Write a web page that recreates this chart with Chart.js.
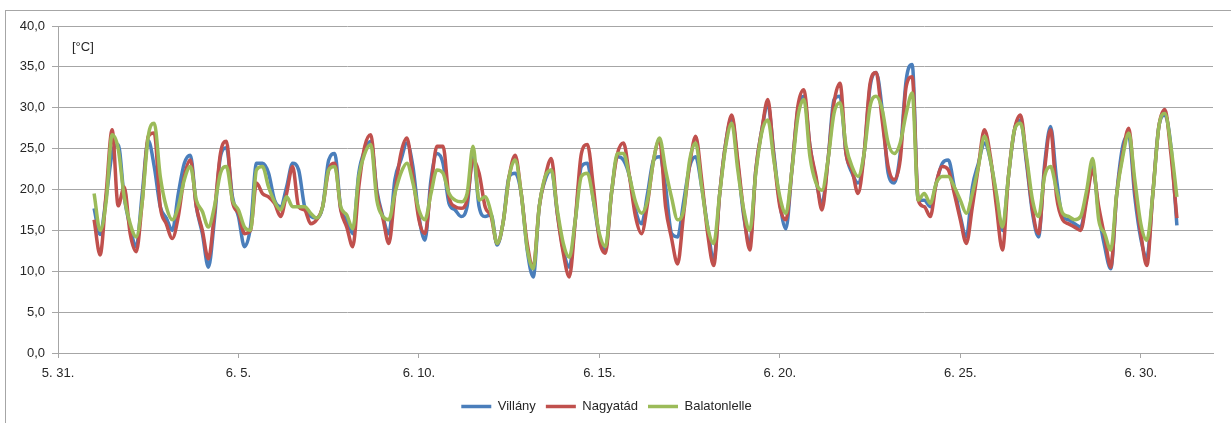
<!DOCTYPE html>
<html>
<head>
<meta charset="utf-8">
<script src="https://cdn.jsdelivr.net/npm/chart.js@4/dist/chart.umd.min.js"></script>
<style>
    html, body { margin: 0; padding: 0; background: #fff; }
    #wrap { position: relative; width: 1231px; height: 423px; }
    #frame { position: absolute; left: 5px; top: 10px; right: 0; bottom: 0;
             border-left: 1px solid #a6a6a6; border-top: 1px solid #a6a6a6; pointer-events: none; }
    canvas { position: absolute; left: 0; top: 0; }
</style>
</head>
<body>
<div id="wrap">
    <div id="frame"></div>
    <canvas id="tempChart" width="1231" height="423"></canvas>
</div>
<script>
// days are counted from 5.31. 00:00, one reading every 4 hours from 6.1.
const firstDay = 1;
const stepHours = 4;

const seriesNames = ['Villány', 'Nagyatád', 'Balatonlelle'];
const seriesColors = ['#4a7ebb', '#c0504d', '#9bbb59'];

const xTickValues = [0, 5, 10, 15, 20, 25, 30];
const xTickLabels = ['5. 31.', '6. 5.', '6. 10.', '6. 15.', '6. 20.', '6. 25.', '6. 30.'];
const yTickValues = [0, 5, 10, 15, 20, 25, 30, 35, 40];
const unitLabel = '[°C]';

// 0h, 4h, 8h, 12h, 16h, 20h for each day
const villany = [
    17.7, 14.5, 19.0, 24.4, 25.5, 19.1,
    15.4, 13.0, 19.5, 26.0, 22.8, 17.9,
    16.5, 15.0, 19.5, 23.2, 24.2, 17.9,
    14.6, 10.5, 16.3, 24.0, 25.1, 19.1,
    16.7, 13.0, 15.4, 23.2, 23.2, 22.0,
    18.7, 17.9, 20.3, 23.2, 22.4, 17.9,
    16.7, 16.5, 17.9, 23.6, 24.4, 17.7,
    16.3, 14.6, 22.0, 24.8, 25.9, 19.9,
    16.7, 14.6, 21.2, 23.6, 25.7, 22.8,
    16.7, 13.8, 21.2, 24.4, 23.2, 18.3,
    17.5, 16.7, 17.9, 24.4, 17.9, 16.7,
    16.9, 13.2, 16.0, 21.6, 22.0, 19.5,
    12.6, 9.3, 17.9, 21.2, 22.4, 17.1,
    12.6, 10.5, 16.3, 22.8, 23.2, 18.7,
    14.2, 12.6, 19.5, 24.0, 23.6, 21.6,
    17.5, 15.8, 19.5, 23.6, 24.0, 20.3,
    14.6, 14.2, 18.5, 22.8, 24.0, 20.3,
    15.4, 11.3, 19.5, 25.7, 28.7, 23.2,
    16.7, 13.4, 22.4, 27.3, 30.4, 24.4,
    18.3, 15.2, 22.4, 29.8, 31.4, 25.3,
    21.2, 18.3, 23.6, 31.0, 31.4, 24.4,
    22.0, 20.8, 24.4, 32.6, 34.3, 29.8,
    22.0, 20.8, 24.4, 33.4, 35.3, 18.7,
    18.7, 17.9, 20.8, 23.2, 23.6, 20.3,
    16.7, 14.2, 20.3, 23.2, 25.7, 23.6,
    19.1, 15.0, 21.6, 27.3, 28.5, 23.2,
    17.1, 14.2, 23.0, 27.7, 21.2, 16.7,
    16.3, 15.8, 15.4, 19.1, 22.8, 17.1,
    13.0, 10.3, 19.5, 25.3, 26.5, 19.1,
    14.0, 11.7, 19.5, 27.7, 29.1, 25.3,
    15.6
];

const nagyatad = [
    16.3, 12.0, 19.5, 27.3, 18.0, 20.3,
    14.6, 12.4, 18.5, 26.5, 26.9, 17.9,
    15.8, 14.0, 16.7, 21.6, 23.6, 17.9,
    15.0, 11.5, 17.1, 24.4, 25.9, 18.5,
    17.1, 14.6, 15.0, 20.8, 19.5, 19.1,
    18.3, 16.7, 19.5, 22.8, 17.9, 17.5,
    15.8, 16.3, 17.9, 22.4, 23.2, 17.5,
    15.4, 13.0, 20.3, 25.3, 26.7, 19.5,
    16.5, 13.4, 19.5, 24.4, 26.3, 21.6,
    16.3, 14.6, 20.3, 25.3, 25.3, 19.1,
    17.9, 17.7, 18.7, 23.6, 22.0, 17.9,
    16.7, 13.4, 16.0, 21.6, 24.2, 19.5,
    13.4, 10.5, 17.9, 21.6, 23.8, 17.1,
    12.2, 9.3, 16.3, 24.4, 25.5, 20.3,
    13.8, 12.2, 19.5, 24.4, 25.7, 21.6,
    16.7, 14.6, 18.3, 23.6, 26.1, 17.9,
    14.0, 10.9, 17.0, 23.0, 26.5, 21.2,
    14.6, 10.7, 19.5, 25.7, 29.1, 23.6,
    17.1, 12.6, 22.4, 27.3, 31.0, 24.0,
    17.9, 16.3, 22.4, 30.2, 32.2, 25.3,
    21.6, 17.5, 23.6, 30.6, 33.0, 24.4,
    22.4, 19.5, 24.4, 33.0, 34.3, 28.5,
    22.8, 21.2, 23.6, 32.6, 33.8, 18.7,
    17.9, 16.7, 20.8, 22.8, 22.4, 19.5,
    16.3, 13.4, 17.9, 22.8, 27.3, 24.0,
    17.9, 12.6, 21.6, 27.3, 29.1, 23.6,
    17.5, 14.6, 22.4, 27.3, 19.1, 16.3,
    15.8, 15.4, 15.0, 18.7, 22.4, 17.9,
    14.2, 10.5, 19.5, 24.4, 27.5, 20.0,
    14.6, 10.7, 19.5, 27.7, 29.8, 24.4,
    16.5
];

const balatonlelle = [
    19.5, 15.0, 18.5, 26.7, 25.0, 19.1,
    15.8, 14.2, 18.5, 26.5, 28.1, 21.6,
    17.9, 16.3, 17.9, 21.2, 22.8, 18.7,
    17.3, 15.4, 17.9, 22.0, 22.8, 18.7,
    17.5, 15.4, 15.0, 22.4, 22.8, 20.3,
    18.5, 17.5, 19.1, 17.9, 17.9, 17.9,
    17.1, 16.5, 17.9, 22.4, 22.8, 17.9,
    16.9, 15.2, 21.6, 24.4, 25.5, 18.7,
    16.7, 16.3, 19.5, 22.0, 23.2, 20.8,
    17.5, 16.3, 19.5, 22.4, 22.0, 19.5,
    18.7, 18.5, 19.5, 25.3, 18.7, 19.1,
    17.1, 13.4, 16.0, 21.6, 23.6, 19.5,
    12.8, 10.3, 17.9, 21.6, 22.4, 17.5,
    13.4, 11.7, 16.3, 21.6, 22.0, 18.7,
    14.6, 13.0, 19.5, 24.4, 24.4, 21.6,
    18.5, 17.1, 18.7, 23.6, 26.3, 22.4,
    19.0, 16.3, 17.5, 23.6, 25.7, 20.3,
    15.4, 13.4, 19.5, 25.3, 28.1, 22.4,
    17.5, 15.0, 22.0, 27.0, 28.5, 23.6,
    19.1, 17.1, 22.4, 28.9, 31.0, 24.0,
    20.8, 19.9, 23.6, 29.3, 30.6, 25.3,
    22.8, 21.6, 24.4, 30.2, 31.4, 29.8,
    25.7, 24.4, 25.7, 29.3, 31.8, 18.7,
    19.5, 18.3, 20.8, 21.6, 21.6, 20.3,
    18.7, 17.1, 19.5, 22.8, 26.5, 23.6,
    19.5, 15.4, 21.6, 27.3, 28.1, 24.0,
    18.7, 16.7, 21.6, 22.8, 19.9, 17.1,
    16.7, 16.3, 16.7, 19.9, 23.8, 16.3,
    14.6, 12.6, 19.5, 24.0, 26.9, 21.2,
    15.8, 13.8, 19.5, 27.7, 29.3, 25.3,
    19.1
];

function toPoints(values) {
    return values.map((v, i) => ({ x: firstDay + i * stepHours / 24, y: v }));
}

const allSeries = [villany, nagyatad, balatonlelle];
const textColor = '#262626';
const gridColor = '#a6a6a6';
const fontFamily = "'Liberation Sans', 'DejaVu Sans', sans-serif";

// the unit label sits in the top left corner of the plot
const unitLabelPlugin = {
    id: 'unitLabel',
    afterDraw(chart) {
        const ctx = chart.ctx;
        const area = chart.chartArea;
        ctx.save();
        ctx.font = '13px ' + fontFamily;
        ctx.fillStyle = textColor;
        ctx.textBaseline = 'middle';
        ctx.fillText(unitLabel, area.left + 14, area.top + 21);
        ctx.restore();
    }
};

new Chart(document.getElementById('tempChart').getContext('2d'), {
    type: 'line',
    data: {
        datasets: allSeries.map((values, i) => ({
            label: seriesNames[i],
            data: toPoints(values),
            borderColor: seriesColors[i],
            backgroundColor: seriesColors[i],
            borderWidth: 3.5,
            pointRadius: 0,
            cubicInterpolationMode: 'monotone',
            order: allSeries.length - i
        }))
    },
    options: {
        responsive: false,
        animation: false,
        layout: { padding: { left: 0, right: 18, top: 26, bottom: 0 } },
        plugins: {
            legend: {
                position: 'bottom',
                labels: {
                    usePointStyle: true,
                    pointStyle: 'line',
                    pointStyleWidth: 30,
                    padding: 10,
                    color: textColor,
                    font: { family: fontFamily, size: 13 },
                    sort: (a, b) => a.datasetIndex - b.datasetIndex
                }
            },
            tooltip: { enabled: false }
        },
        scales: {
            x: {
                type: 'linear',
                min: 0,
                max: 32,
                afterBuildTicks: scale => { scale.ticks = xTickValues.map(v => ({ value: v })); },
                afterFit: scale => { scale.height = 37; },
                ticks: {
                    color: textColor,
                    font: { family: fontFamily, size: 13 },
                    padding: 8,
                    maxRotation: 0,
                    autoSkip: false,
                    callback: v => xTickLabels[xTickValues.indexOf(v)]
                },
                grid: { drawOnChartArea: false, drawTicks: true, tickLength: 5, color: gridColor },
                border: { color: gridColor }
            },
            y: {
                min: 0,
                max: 40,
                afterBuildTicks: scale => { scale.ticks = yTickValues.map(v => ({ value: v })); },
                afterFit: scale => { scale.width = 58; },
                ticks: {
                    color: textColor,
                    font: { family: fontFamily, size: 13 },
                    padding: 7,
                    callback: v => v.toFixed(1).replace('.', ',')
                },
                grid: { color: gridColor, tickLength: 6 },
                border: { color: gridColor }
            }
        }
    },
    plugins: [unitLabelPlugin]
});
</script>
</body>
</html>
